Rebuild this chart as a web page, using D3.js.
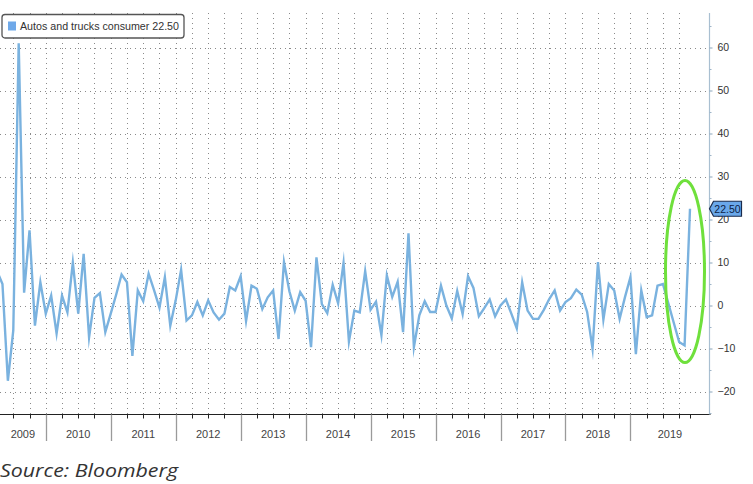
<!DOCTYPE html>
<html>
<head>
<meta charset="utf-8">
<script src="https://cdn.jsdelivr.net/npm/d3@7"></script>
<style>
  html, body { margin: 0; padding: 0; background: #fff; }
  svg { display: block; }
</style>
</head>
<body>
<svg id="chart" width="753" height="484"></svg>
<script>
// ---- data (monthly, % change) ----
const seriesName = "Autos and trucks consumer";
const firstYear = 2009;
const firstMonth = 3; // data begins March 2009
const v2009 = [8, 5, -17.5, -5.8, 61, 3, 17.5, -4.7, 5.4, -1.9];
const v2010 = [2.3, -6.5, 2.3, -1.6, 10, -1.9, 12, -7.4, 1.8, 2.9, -6.2, -1.9];
const v2011 = [2.5, 7.2, 5.4, -11.7, 3.5, 1, 7.4, 3.6, -0.5, 6.6, -4.7, 1.2];
const v2012 = [8.3, -3.5, -2.3, 0.8, -2.3, 1.2, -1.6, -3.3, -1.9, 4.3, 3.5, 6.8];
const v2013 = [-3.6, 4.6, 3.9, -0.8, 1.9, 3.5, -7.8, 10.1, 3.3, -1.2, 3.1, 1.1];
const v2014 = [-9.7, 11.2, 0.3, -1.8, 4.8, 0.5, 9.9, -8.4, -1.2, -1.6, 8, -1];
const v2015 = [0.9, -6.9, 7, 2, 5.5, -6.2, 16.8, -9.7, -2.3, 1, -1.5, -1.5];
const v2016 = [4.6, 0, -3, 3.4, -2, 6.8, 4.1, -2.5, -0.6, 1.4, -2.5, 0];
const v2017 = [1.4, -1.9, -5.3, 5.4, -1.2, -3.1, -3.1, -1, 1.5, 3.5, -1.2, 0.8];
const v2018 = [1.7, 3.7, 2.5, -1.5, -10.1, 10.1, -3.3, 5, 3.5, -3.1, 2, 6.6];
const v2019 = [-11.3, 3.5, -2.7, -2.3, 4.6, 5, 0.5, -4, -8.5, -9.3, 22.5];
const yearLabels = ["2009","2010","2011","2012","2013","2014","2015","2016","2017","2018","2019"];
const yTicks = [-20, -10, 0, 10, 20, 30, 40, 50, 60];
const yMinorTicks = [-25, -15, -5, 5, 15, 25, 35, 45, 55, 65];
const sourceText = "Source: Bloomberg";

const yearArrays = [v2009, v2010, v2011, v2012, v2013, v2014, v2015, v2016, v2017, v2018, v2019];
const data = [];
yearArrays.forEach((arr, yi) => {
  const startM = yi === 0 ? firstMonth : 1;
  arr.forEach((v, i) => data.push({ t: firstYear + yi + (startM + i) / 12, v: v }));
});
const lastT = data[data.length - 1].t;
const lastV = data[data.length - 1].v;

// ---- layout ----
const svg = d3.select("#chart");
const axisX = 709.5;       // right value axis
const baseY = 414.5;       // time axis line
const topY = 13;
const x = d3.scaleLinear().domain([2009, lastT]).range([-19.2, 690]);
const y = d3.scaleLinear().domain([-20, 60]).range([391.5, 47.5]);

// clip
svg.append("defs").append("clipPath").attr("id", "plotclip")
  .append("rect").attr("x", 0).attr("y", 0).attr("width", axisX).attr("height", baseY);

// quarterly grid positions
const quarterTs = [];
for (let t = 2009 + 3 / 12; t <= lastT - 1 / 12 + 1e-9; t += 3 / 12) quarterTs.push(+t.toFixed(4));
const quarterVisible = quarterTs.filter(t => x(t) >= 0);

// horizontal dotted grid
svg.append("g").selectAll("line").data(yTicks).join("line")
  .attr("x1", 0).attr("x2", axisX)
  .attr("y1", d => Math.round(y(d)) + 0.5).attr("y2", d => Math.round(y(d)) + 0.5)
  .attr("stroke", "#8a8a8a").attr("stroke-width", 1).attr("stroke-dasharray", "1,4");

// vertical dotted grid
svg.append("g").selectAll("line").data(quarterVisible).join("line")
  .attr("x1", d => Math.round(x(d)) + 0.5).attr("x2", d => Math.round(x(d)) + 0.5)
  .attr("y1", topY).attr("y2", baseY)
  .attr("stroke", "#8a8a8a").attr("stroke-width", 1).attr("stroke-dasharray", "1,4");

// line
const line = d3.line().x(d => x(d.t)).y(d => y(d.v));
svg.append("path").datum(data)
  .attr("clip-path", "url(#plotclip)")
  .attr("fill", "none").attr("stroke", "#7ab2df").attr("stroke-width", 2.4)
  .attr("stroke-linejoin", "miter").attr("stroke-miterlimit", 10)
  .attr("d", line);

// bottom axis line
svg.append("line").attr("x1", 0).attr("x2", axisX + 1).attr("y1", baseY).attr("y2", baseY)
  .attr("stroke", "#222").attr("stroke-width", 1);
// bottom ticks (quarters + last point)
const tickTs = quarterVisible.concat([lastT]);
svg.append("g").selectAll("line").data(tickTs).join("line")
  .attr("x1", d => Math.round(x(d)) + 0.5).attr("x2", d => Math.round(x(d)) + 0.5)
  .attr("y1", baseY).attr("y2", baseY + 4)
  .attr("stroke", "#222").attr("stroke-width", 1);
// year separators
const sepTs = d3.range(2010, 2020);
svg.append("g").selectAll("line").data(sepTs).join("line")
  .attr("x1", d => Math.round(x(d)) + 0.5).attr("x2", d => Math.round(x(d)) + 0.5)
  .attr("y1", baseY).attr("y2", 441)
  .attr("stroke", "#9a9a9a").attr("stroke-width", 1.3);
// year labels centered in visible segments
svg.append("g").selectAll("text").data(yearLabels).join("text")
  .attr("x", (d, i) => {
    const a = Math.max(0, x(2009 + i));
    const b = i === yearLabels.length - 1 ? axisX : x(2010 + i);
    return (a + b) / 2;
  })
  .attr("y", 438)
  .attr("text-anchor", "middle")
  .attr("font-family", "'Liberation Sans', Arial, sans-serif")
  .attr("font-size", 11).attr("fill", "#444")
  .text(d => d);

// right axis
svg.append("line").attr("x1", axisX).attr("x2", axisX).attr("y1", topY).attr("y2", baseY)
  .attr("stroke", "#a9bfd1").attr("stroke-width", 1.2);
const yAxis = d3.axisRight(y).tickValues(yTicks).tickSize(3).tickPadding(5).tickFormat(d3.format("d"));
const gy = svg.append("g").attr("transform", `translate(${axisX},0)`).call(yAxis);
gy.select(".domain").remove();
gy.selectAll(".tick line").attr("stroke", "#8aa5bb");
gy.selectAll(".tick text").attr("fill", "#333").attr("font-size", 10.5)
  .attr("font-family", "'Liberation Sans', Arial, sans-serif");
const yMinor = d3.axisRight(y).tickValues(yMinorTicks).tickSize(2).tickFormat("");
const gym = svg.append("g").attr("transform", `translate(${axisX},0)`).call(yMinor);
gym.select(".domain").remove();
gym.selectAll(".tick line").attr("stroke", "#9fb5c8");

// last value tag
const ty = y(lastV);
svg.append("path")
  .attr("d", `M${axisX},${ty} L${axisX + 4},${ty - 7.5} L${axisX + 32},${ty - 7.5} L${axisX + 32},${ty + 7.5} L${axisX + 4},${ty + 7.5} Z`)
  .attr("fill", "#6aa8ea").attr("stroke", "#1b2b4b").attr("stroke-width", 1.2);
svg.append("text").attr("x", axisX + 18).attr("y", ty + 3.8)
  .attr("text-anchor", "middle")
  .attr("font-family", "'Liberation Sans', Arial, sans-serif")
  .attr("font-size", 10.5).attr("fill", "#0d1f45")
  .text(d3.format(".2f")(lastV));

// green highlight ellipse
svg.append("ellipse").attr("cx", 685).attr("cy", 271.5).attr("rx", 19.5).attr("ry", 91)
  .attr("fill", "none").attr("stroke", "#6fe03c").attr("stroke-width", 3);

// legend
svg.append("rect").attr("x", 2).attr("y", 14.5).attr("width", 182).attr("height", 23.5)
  .attr("rx", 3).attr("fill", "#fff").attr("stroke", "#555").attr("stroke-width", 1.3);
svg.append("rect").attr("x", 8).attr("y", 21.5).attr("width", 8).attr("height", 9)
  .attr("fill", "#6fa9e9");
svg.append("text").attr("x", 20).attr("y", 30)
  .attr("font-family", "'Liberation Sans', Arial, sans-serif")
  .attr("font-size", 11).attr("fill", "#333")
  .attr("textLength", 159).attr("lengthAdjust", "spacingAndGlyphs")
  .text(`${seriesName} ${d3.format(".2f")(lastV)}`);

// source
svg.append("text").attr("x", 0).attr("y", 477)
  .attr("font-family", "'Open Sans', 'Liberation Sans', sans-serif")
  .attr("font-style", "italic").attr("font-size", 18).attr("fill", "#333")
  .attr("textLength", 178).attr("lengthAdjust", "spacingAndGlyphs")
  .text(sourceText);
</script>
</body>
</html>
